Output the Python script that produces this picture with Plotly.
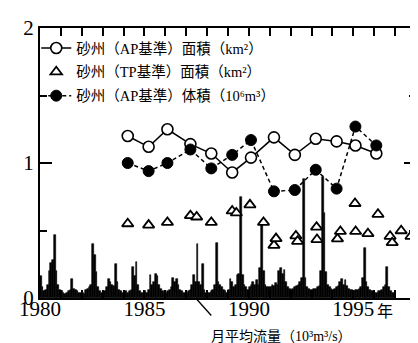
import plotly.graph_objects as go

# --- data ---
ap_area_years = [1984.2, 1985.2, 1986.1, 1987.2, 1988.2, 1989.2, 1990.1, 1991.2, 1992.2, 1993.2, 1994.2, 1995.1, 1996.1]
ap_area = [1.20, 1.12, 1.25, 1.14, 1.07, 0.93, 1.04, 1.19, 1.06, 1.18, 1.16, 1.13, 1.07]

ap_vol_years = [1984.2, 1985.2, 1986.1, 1987.2, 1988.2, 1989.2, 1990.1, 1991.2, 1992.2, 1993.2, 1994.2, 1995.1, 1996.1]
ap_vol = [1.00, 0.94, 1.00, 1.10, 0.96, 1.06, 1.17, 0.79, 0.80, 0.95, 0.81, 1.27, 1.13]

tp_area_years = [1984.2, 1985.2, 1986.1, 1987.2, 1987.5, 1988.2, 1989.2, 1989.4, 1990.05, 1990.7,
                 1991.2, 1991.3, 1992.25, 1992.33, 1993.24, 1993.26, 1994.24, 1994.38, 1995.08, 1995.11,
                 1995.7, 1996.18, 1996.76, 1996.86, 1997.29, 1997.76]
tp_area = [0.55, 0.54, 0.56, 0.61, 0.60, 0.56, 0.645, 0.63, 0.69, 0.56,
           0.39, 0.44, 0.46, 0.42, 0.525, 0.433, 0.438, 0.493, 0.70, 0.493,
           0.477, 0.62, 0.457, 0.41, 0.498, 0.457]

flow_start_year = 1980
flow_monthly = [
    # 1980
    0.16, 0.08, 0.05, 0.06, 0.10, 0.20, 0.26, 0.28, 0.47, 0.20, 0.10, 0.06,
    # 1981
    0.05, 0.04, 0.03, 0.04, 0.05, 0.06, 0.14, 0.07, 0.06, 0.05, 0.04, 0.04,
    # 1982
    0.04, 0.03, 0.06, 0.07, 0.08, 0.10, 0.40, 0.32, 0.19, 0.08, 0.05, 0.04,
    # 1983
    0.05, 0.05, 0.08, 0.14, 0.12, 0.10, 0.09, 0.25, 0.12, 0.06, 0.05, 0.04,
    # 1984
    0.04, 0.05, 0.04, 0.05, 0.06, 0.23, 0.16, 0.27, 0.10, 0.05, 0.04, 0.04,
    # 1985
    0.05, 0.04, 0.06, 0.17, 0.10, 0.12, 0.18, 0.16, 0.10, 0.07, 0.05, 0.04,
    # 1986
    0.04, 0.05, 0.06, 0.08, 0.15, 0.12, 0.14, 0.10, 0.06, 0.05, 0.04, 0.04,
    # 1987
    0.04, 0.05, 0.06, 0.10, 0.17, 0.12, 0.40, 0.12, 0.10, 0.25, 0.06, 0.04,
    # 1988
    0.04, 0.04, 0.05, 0.06, 0.10, 0.41, 0.12, 0.10, 0.08, 0.06, 0.05, 0.04,
    # 1989
    0.06, 0.14, 0.12, 0.08, 0.10, 0.17, 0.18, 0.75, 0.17, 0.10, 0.08, 0.06,
    # 1990
    0.08, 0.10, 0.12, 0.10, 0.13, 0.10, 0.22, 0.56, 0.20, 0.10, 0.08, 0.08,
    # 1991
    0.08, 0.10, 0.09, 0.11, 0.10, 0.20, 0.22, 0.18, 0.21, 0.12, 0.08, 0.07,
    # 1992
    0.06, 0.07, 0.08, 0.09, 0.10, 0.12, 0.15, 0.88, 0.15, 0.08, 0.07, 0.06,
    # 1993
    0.06, 0.07, 0.07, 0.08, 0.09, 0.20, 0.90, 0.63, 0.19, 0.10, 0.08, 0.07,
    # 1994
    0.06, 0.07, 0.08, 0.09, 0.12, 0.14, 0.10, 0.13, 0.09, 0.07, 0.06, 0.06,
    # 1995
    0.05, 0.06, 0.06, 0.07, 0.08, 0.15, 0.37, 0.12, 0.08, 0.06, 0.05, 0.05,
    # 1996
    0.04, 0.04, 0.05, 0.05, 0.06, 0.08, 0.10, 0.23, 0.08, 0.05, 0.04, 0.04,
]
flow_x = [flow_start_year + (i + 0.5) / 12 for i in range(len(flow_monthly))]

x_tickvals = [1980, 1985, 1990, 1995]
x_ticktext = ["1980", "1985", "1990", "1995"]
y_tickvals = [0, 1, 2]
y_ticktext = ["0", "1", "2"]

name_ap_area = "砂州（AP基準）面積（km²）"
name_tp_area = "砂州（TP基準）面積（km²）"
name_ap_vol = "砂州（AP基準）体積（10⁶m³）"
flow_label = "月平均流量（10³m³/s）"

SERIF = "Liberation Serif, Noto Sans CJK JP, serif"

fig = go.Figure()

fig.add_trace(go.Bar(
    x=flow_x, y=flow_monthly, width=1 / 12,
    marker=dict(color="black", line=dict(width=0.6, color="black")),
    showlegend=False, hoverinfo="skip",
))

fig.add_trace(go.Scatter(
    x=ap_area_years, y=ap_area, mode="lines+markers", name=name_ap_area,
    line=dict(color="black", width=1.5),
    marker=dict(symbol="circle", size=11, color="white", line=dict(color="black", width=1.6)),
    legendgroup="a", legendrank=1,
))

fig.add_trace(go.Scatter(
    x=tp_area_years, y=tp_area, mode="markers", name=name_tp_area,
    marker=dict(symbol="triangle-up", size=10, color="white", line=dict(color="black", width=1.8)),
    legendgroup="b", legendrank=2,
))

fig.add_trace(go.Scatter(
    x=ap_vol_years, y=ap_vol, mode="lines+markers", name=name_ap_vol,
    line=dict(color="black", width=1.5, dash="4px,3px"),
    marker=dict(symbol="circle", size=11, color="black", line=dict(color="black", width=1)),
    legendgroup="c", legendrank=3,
))

fig.add_annotation(
    x=1987.45, y=0, xref="x", yref="y", text="", showarrow=True,
    arrowhead=0, arrowwidth=1.3, arrowcolor="black", ax=17, ay=19, standoff=0,
)
fig.add_annotation(
    x=0.45, y=-0.144, xref="paper", yref="paper", text=flow_label, showarrow=False,
    xanchor="left", yanchor="middle", font=dict(family=SERIF, size=14, color="black"),
)
fig.add_annotation(
    x=1996.05, y=-0.045, xref="x", yref="paper", text="年", showarrow=False,
    xanchor="left", yanchor="middle", font=dict(family="Noto Sans CJK JP", size=16, color="black"),
)

fig.update_layout(
    width=418, height=343,
    margin=dict(l=32, r=8, t=13, b=53),
    paper_bgcolor="white", plot_bgcolor="white",
    bargap=0,
    font=dict(family=SERIF, color="black"),
    legend=dict(
        x=-0.01, y=0.985, xanchor="left", yanchor="top",
        bgcolor="rgba(0,0,0,0)", borderwidth=0,
        font=dict(family=SERIF, size=14.5, color="black"),
        tracegroupgap=2, itemwidth=30,
    ),
    xaxis=dict(
        range=[1980, 1998], tickvals=x_tickvals, ticktext=x_ticktext,
        ticks="inside", ticklen=8, tickwidth=1.5, tickcolor="black",
        showline=True, linecolor="black", linewidth=2, mirror="ticks",
        showgrid=False, zeroline=False, ticklabelstandoff=-9,
        tickfont=dict(family=SERIF, size=21, color="black"),
        minor=dict(dtick=1, ticks="inside", ticklen=8, tickwidth=1.5, tickcolor="black", showgrid=False),
    ),
    yaxis=dict(
        range=[0, 2], tickvals=y_tickvals, ticktext=y_ticktext,
        ticks="inside", ticklen=12, tickwidth=1.5, tickcolor="black",
        showline=True, linecolor="black", linewidth=2, mirror="ticks",
        showgrid=False, zeroline=False,
        tickfont=dict(family=SERIF, size=21, color="black"),
        minor=dict(dtick=0.5, ticks="inside", ticklen=7, tickwidth=1.5, tickcolor="black", showgrid=False),
    ),
)

fig.write_html("out.html")
